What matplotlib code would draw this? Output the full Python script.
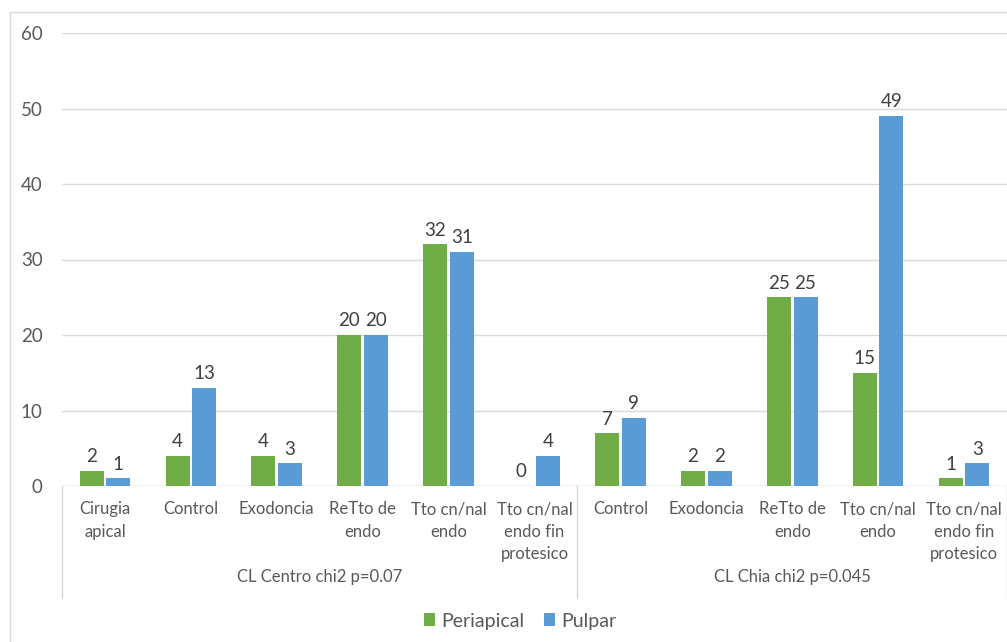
import matplotlib
matplotlib.use("Agg")
import matplotlib.pyplot as plt
import numpy as np
from matplotlib.patches import Rectangle

plt.rcParams["font.family"] = ["Lato", "DejaVu Sans"]

categories = ["Cirugia\napical", "Control", "Exodoncia", "ReTto de\nendo",
              "Tto cn/nal\nendo", "Tto cn/nal\nendo fin\nprotesico",
              "Control", "Exodoncia", "ReTto de\nendo", "Tto cn/nal\nendo",
              "Tto cn/nal\nendo fin\nprotesico"]
groups = ["CL Centro chi2 p=0.07", "CL Chia chi2 p=0.045"]
group_sizes = [6, 5]
periapical = [2, 4, 4, 20, 32, 0, 7, 2, 25, 15, 1]
pulpar = [1, 13, 3, 20, 31, 4, 9, 2, 25, 49, 3]

GREEN = "#70ad47"
BLUE = "#5b9bd5"
GRID = "#d9d9d9"
TXT = "#595959"

fig = plt.figure(figsize=(10.07, 6.42), dpi=100)
ax = fig.add_axes([62 / 1007, 156 / 642, 1 - 62 / 1007, 453 / 642])

x = np.arange(len(categories))
w = 0.28
off = 0.155
b1 = ax.bar(x - off, periapical, w, color=GREEN, label="Periapical", zorder=3)
b2 = ax.bar(x + off, pulpar, w, color=BLUE, label="Pulpar", zorder=3)
for bars in (b1, b2):
    ax.bar_label(bars, padding=4, fontsize=13.5, color="#404040")

ax.set_xlim(-0.5, len(categories) - 0.5)
ax.set_ylim(0, 60)
ax.set_yticks(range(0, 61, 10))
ax.yaxis.grid(True, color=GRID, lw=1, zorder=0)
for s in ax.spines.values():
    s.set_visible(False)
ax.tick_params(axis="y", length=0, pad=14, labelsize=13.5, labelcolor=TXT)
ax.set_xticks(x)
ax.set_xticklabels(categories, fontsize=12, color=TXT, linespacing=1.5)
ax.tick_params(axis="x", length=0, pad=11)
ax.axhline(0, color=GRID, lw=1, zorder=2)

# group separators and group labels
trans = ax.get_xaxis_transform()
edges = np.concatenate([[0], np.cumsum(group_sizes)]) - 0.5
for e in edges:
    ax.plot([e, e], [0, -0.247], transform=trans, color=GRID, lw=1,
            clip_on=False)
for g, lo, hi in zip(groups, edges[:-1], edges[1:]):
    ax.text((lo + hi) / 2, -0.2, g, transform=trans, ha="center",
            va="center", fontsize=12, color=TXT)

fig.legend(handles=[b1, b2], loc="center", bbox_to_anchor=(520 / 1007, 21 / 642),
           ncol=2, frameon=False, fontsize=14, labelcolor=TXT,
           handlelength=0.6, handleheight=0.6, columnspacing=1.0,
           handletextpad=0.3)

fig.patches.append(Rectangle((10 / 1007, -0.02), 1.0, 1 - 12 / 642 + 0.02,
                             transform=fig.transFigure, fill=False,
                             edgecolor=GRID, lw=1))

fig.savefig("out.png", dpi=100)
